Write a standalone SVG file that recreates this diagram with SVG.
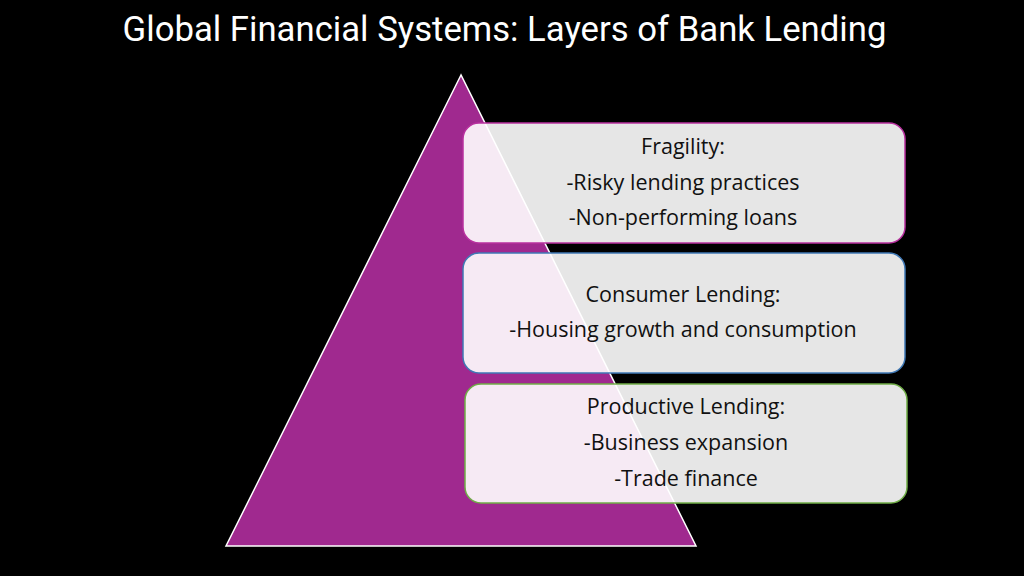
<svg xmlns="http://www.w3.org/2000/svg" width="1024" height="576" viewBox="0 0 1024 576">
<style>
.box{fill:#ffffff;fill-opacity:0.9;stroke-width:1.5}
.t{font-family:"Open Sans","Liberation Sans",sans-serif;font-size:21.5px;fill:#111111;text-anchor:middle}
.title{font-family:"Roboto","Liberation Sans",sans-serif;font-size:34.7px;fill:#ffffff;text-anchor:middle}
</style>
<rect width="1024" height="576" fill="#000000"/>
<text class="title" x="504.5" y="41">Global Financial Systems: Layers of Bank Lending</text>
<g id="pyramid">
<polygon points="461,75 226,546 696,546" fill="#A0298F" stroke="#ffffff" stroke-width="1.5"/>
</g>
<g id="connectors"></g>
<g id="fragility">
<rect class="box" x="463" y="123" width="442" height="120" rx="16" stroke="#B8309F"/>
<text class="t" x="683" y="154">Fragility:</text>
<text class="t" x="683" y="190">-Risky lending practices</text>
<text class="t" x="683" y="225">-Non-performing loans</text>
</g>
<g id="consumer">
<rect class="box" x="463" y="253" width="442" height="120" rx="16" stroke="#3F78B5"/>
<text class="t" x="683" y="302">Consumer Lending:</text>
<text class="t" x="683" y="337">-Housing growth and consumption</text>
</g>
<g id="productive">
<rect class="box" x="465" y="384" width="442" height="119" rx="16" stroke="#70AD47"/>
<text class="t" x="686" y="414">Productive Lending:</text>
<text class="t" x="686" y="450">-Business expansion</text>
<text class="t" x="686" y="486">-Trade finance</text>
</g>
</svg>
